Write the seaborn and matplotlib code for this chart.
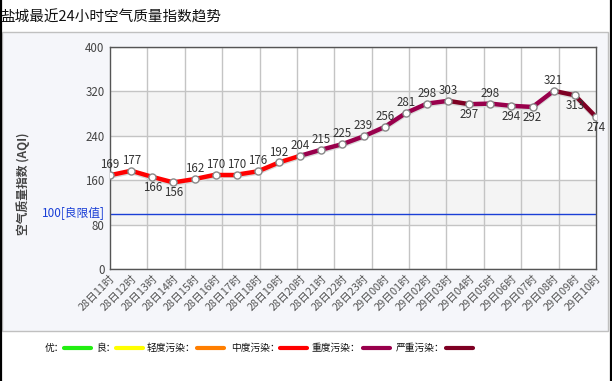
import numpy as np
import pandas as pd
import matplotlib
matplotlib.use("Agg")
import matplotlib.pyplot as plt
from matplotlib.patches import Rectangle
from matplotlib.lines import Line2D
import seaborn as sns

# ---------------- data ----------------
hours = ["28日11时", "28日12时", "28日13时", "28日14时", "28日15时", "28日16时",
         "28日17时", "28日18时", "28日19时", "28日20时", "28日21时", "28日22时",
         "28日23时", "29日00时", "29日01时", "29日02时", "29日03时", "29日04时",
         "29日05时", "29日06时", "29日07时", "29日08时", "29日09时", "29日10时"]
aqi = [169, 177, 166, 156, 162, 170, 170, 176, 192, 204, 215, 225,
       239, 256, 281, 298, 303, 297, 298, 294, 292, 321, 313, 274]
yticks = [0, 80, 160, 240, 320, 400]
limit_value = 100
limit_label = "100[良限值]"
level_names = ["优", "良", "轻度污染", "中度污染", "重度污染", "严重污染"]
level_bounds = [0, 50, 100, 150, 200, 300]
level_colors = ["#22ee11", "#ffff00", "#ff7e00", "#ff0000", "#99004c", "#7e0023"]
title = "盐城最近24小时空气质量指数趋势"
ylabel = "空气质量指数 (AQI)"

# ---------------- style ----------------
sns.set_theme(style="white")
plt.rcParams["font.family"] = ["Noto Sans CJK SC", "DejaVu Sans"]

W, H = 612, 381
fig = plt.figure(figsize=(W / 100, H / 100), dpi=100)
fig.patch.set_facecolor("white")

def fx(px):
    return px / W

def fy(py):
    return 1 - py / H

# panel background
fig.add_artist(Rectangle((fx(1.5), fy(331)), fx(608) - fx(1.5), fy(32) - fy(331),
                         transform=fig.transFigure, facecolor="#f5f6fa",
                         edgecolor="#c0c0c0", linewidth=1, zorder=0))
# outer black side borders
fig.add_artist(Line2D([fx(0.8), fx(0.8)], [0, 1], transform=fig.transFigure,
                      color="black", linewidth=1.6))
fig.add_artist(Line2D([fx(611), fx(611)], [0, 1], transform=fig.transFigure,
                      color="black", linewidth=1.6))

fig.text(fx(0), fy(17), title, fontsize=10.5, color="#111111", ha="left", va="center")

ax = fig.add_axes([fx(110), fy(269), fx(596) - fx(110), fy(47) - fy(269)])
ax.set_facecolor("white")
n = len(aqi)
x = np.arange(n)
ax.set_xlim(0, n - 1)
ax.set_ylim(yticks[0], yticks[-1])

# alternating bands
for i in range(len(yticks) - 1):
    if i % 2 == 1:
        ax.axhspan(yticks[i], yticks[i + 1], color="#f4f4f4", zorder=0, linewidth=0)

# grid
ax.set_yticks(yticks)
ax.set_xticks(np.linspace(0, n - 1, 14), minor=True)
ax.grid(True, which="major", axis="y", color="#c4c4c4", linewidth=1, zorder=1)
ax.grid(True, which="minor", axis="x", color="#c4c4c4", linewidth=1, zorder=1)
ax.grid(False, which="major", axis="x")

# limit line
ax.axhline(limit_value, color="#1a3fd6", linewidth=1, zorder=2)
ax.text(-0.25, limit_value, limit_label, transform=ax.transData, ha="right", va="center",
        color="#1a3fd6", fontsize=8.5, clip_on=False)

# line segments coloured by the level of the starting point
def level_color(v):
    idx = 0
    for k, b in enumerate(level_bounds):
        if v > b:
            idx = k
    return level_colors[idx]

rows = []
for i in range(n - 1):
    rows.append({"seg": i, "x": x[i], "y": aqi[i]})
    rows.append({"seg": i, "x": x[i + 1], "y": aqi[i + 1]})
seg_df = pd.DataFrame(rows)
palette = {i: level_color(aqi[i]) for i in range(n - 1)}
# soft shadow
sns.lineplot(data=seg_df.assign(y=seg_df["y"] - 2.5), x="x", y="y", units="seg",
             estimator=None, color="#d8d8d8", linewidth=3.2, ax=ax, zorder=3,
             legend=False, solid_capstyle="round")
sns.lineplot(data=seg_df, x="x", y="y", hue="seg", palette=palette, linewidth=3.2,
             ax=ax, zorder=4, legend=False, solid_capstyle="round")
pts = pd.DataFrame({"x": x, "y": aqi})
sns.scatterplot(data=pts, x="x", y="y", s=26, color="white", edgecolor="#888888",
                linewidth=1, ax=ax, zorder=5, legend=False)

# data labels
for i, v in enumerate(aqi):
    below = i > 0 and v < aqi[i - 1]
    ax.annotate(str(v), (x[i], v), xytext=(0, -7.5 if below else 7.5),
                textcoords="offset points", ha="center",
                va="center", fontsize=8.3, color="#333333", zorder=6,
                annotation_clip=False)

# ticks
ax.set_xticks(x)
ax.set_xticklabels(hours, rotation=45, ha="right", rotation_mode="anchor",
                   fontsize=7.8, color="#555555")
ax.tick_params(axis="x", which="both", length=0, pad=3)
ax.tick_params(axis="y", length=0, pad=4, labelsize=8.3, labelcolor="#444444")
ax.set_xlabel("")
ax.set_ylabel("")
for sp in ax.spines.values():
    sp.set_visible(True)
    sp.set_color("#555555")
    sp.set_linewidth(1)

fig.text(fx(23), fy(184), ylabel, rotation=90, ha="center", va="center",
         fontsize=8.5, fontweight="bold", color="#444444")

# legend row
items = [(45, 64), (97, 116), (147, 197), (231, 280), (312, 363), (396, 446)]
for (tx, lx), name, col in zip(items, level_names, level_colors):
    fig.text(fx(tx), fy(348), name + "：", fontsize=7, color="#111111",
             ha="left", va="center")
    fig.add_artist(Line2D([fx(lx), fx(lx + 27)], [fy(348), fy(348)],
                          transform=fig.transFigure, color=col, linewidth=3))

fig.savefig("out.png", dpi=100, facecolor=fig.get_facecolor())
